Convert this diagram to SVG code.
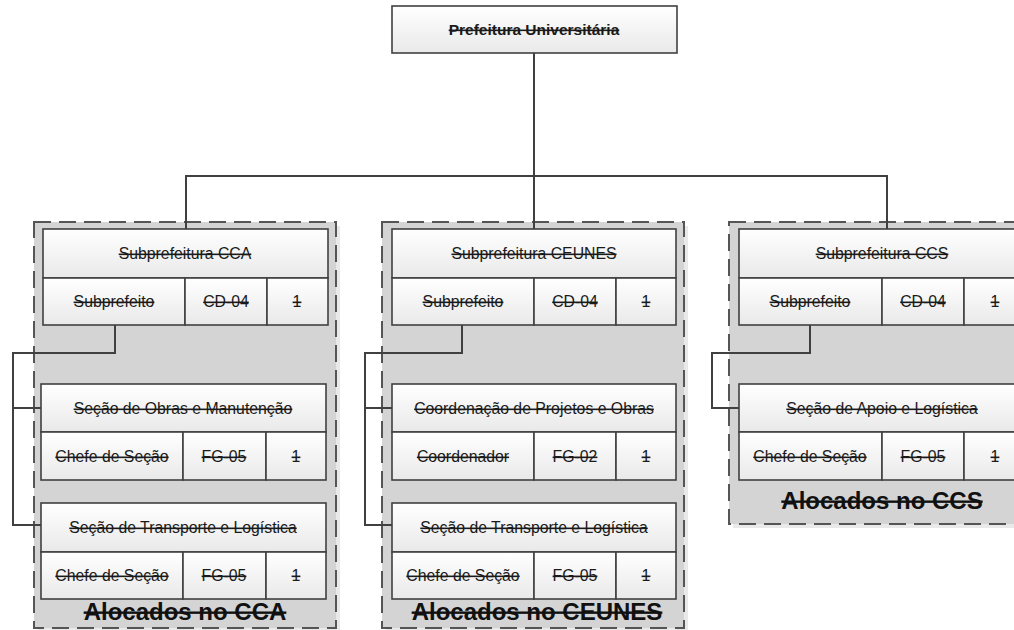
<svg xmlns="http://www.w3.org/2000/svg" width="1014" height="630" viewBox="0 0 1014 630">
<defs>
<linearGradient id="bg" x1="0" y1="0" x2="0" y2="1">
<stop offset="0" stop-color="#ffffff"/>
<stop offset="1" stop-color="#e9e9e9"/>
</linearGradient>
</defs>
<style>
.box{fill:url(#bg);stroke:#404040;stroke-width:1.6}
.cont{fill:#d4d4d4;stroke:#555555;stroke-width:2;stroke-dasharray:17 8}
.shadow{fill:#e9e9e9}
.t{font-family:"Liberation Sans",Arial,sans-serif;font-size:15.8px;fill:#1a1a1a;text-anchor:middle;text-decoration:line-through}
.tb{font-family:"Liberation Sans",Arial,sans-serif;font-size:15.5px;font-weight:bold;fill:#1a1a1a;text-anchor:middle;text-decoration:line-through}
.big{font-family:"Liberation Sans",Arial,sans-serif;font-size:24px;font-weight:bold;fill:#111;text-anchor:middle;text-decoration:line-through}
.ln{fill:none;stroke:#404040;stroke-width:2}
</style>
<rect width="1014" height="630" fill="#ffffff"/>

<g id="container-cca">
<rect class="shadow" x="38" y="226" width="302" height="410"/>
<rect class="cont" x="34" y="222" width="302" height="406"/>
<text class="big" x="185" y="620">Alocados no CCA</text>
</g>
<g id="container-ceunes">
<rect class="shadow" x="386" y="226" width="302" height="410"/>
<rect class="cont" x="382" y="222" width="302" height="406"/>
<text class="big" x="537" y="620">Alocados no CEUNES</text>
</g>
<g id="container-ccs">
<rect class="shadow" x="733" y="226" width="300" height="302"/>
<rect class="cont" x="729" y="222" width="300" height="302"/>
<text class="big" x="882" y="509">Alocados no CCS</text>
</g>

<g id="connectors">
<path class="ln" d="M534 53 V176 M186 229 V176 H887 V229 M534 176 V229"/>
<path class="ln" d="M115 325 V353 H13 V525 H41 M13 408 H41"/>
<path class="ln" d="M462 325 V353 H365 V525 H392 M365 408 H392"/>
<path class="ln" d="M810 325 V353 H712 V408 H739"/>
</g>

<g id="prefeitura">
<rect class="box" x="392" y="6" width="285" height="47"/>
<text class="tb" x="534" y="35">Prefeitura Universitária</text>
</g>

<g id="sub-cca">
<rect class="box" x="43" y="229" width="285" height="49"/>
<text class="t" x="185" y="259">Subprefeitura CCA</text>
<rect class="box" x="43" y="278" width="142" height="47"/>
<rect class="box" x="185" y="278" width="82" height="47"/>
<rect class="box" x="267" y="278" width="61" height="47"/>
<text class="t" x="114" y="307">Subprefeito</text>
<text class="t" x="226" y="307">CD-04</text>
<text class="t" x="297" y="307">1</text>
</g>
<g id="obras-cca">
<rect class="box" x="41" y="384" width="285" height="48"/>
<text class="t" x="183" y="414">Seção de Obras e Manutenção</text>
<rect class="box" x="41" y="432" width="142" height="48"/>
<rect class="box" x="183" y="432" width="83" height="48"/>
<rect class="box" x="266" y="432" width="60" height="48"/>
<text class="t" x="112" y="462">Chefe de Seção</text>
<text class="t" x="224" y="462">FG-05</text>
<text class="t" x="296" y="462">1</text>
</g>
<g id="transporte-cca">
<rect class="box" x="41" y="503" width="285" height="49"/>
<text class="t" x="183" y="533">Seção de Transporte e Logística</text>
<rect class="box" x="41" y="552" width="142" height="47"/>
<rect class="box" x="183" y="552" width="83" height="47"/>
<rect class="box" x="266" y="552" width="60" height="47"/>
<text class="t" x="112" y="581">Chefe de Seção</text>
<text class="t" x="224" y="581">FG-05</text>
<text class="t" x="296" y="581">1</text>
</g>

<g id="sub-ceunes">
<rect class="box" x="392" y="229" width="284" height="49"/>
<text class="t" x="534" y="259">Subprefeitura CEUNES</text>
<rect class="box" x="392" y="278" width="142" height="47"/>
<rect class="box" x="534" y="278" width="82" height="47"/>
<rect class="box" x="616" y="278" width="60" height="47"/>
<text class="t" x="463" y="307">Subprefeito</text>
<text class="t" x="575" y="307">CD-04</text>
<text class="t" x="646" y="307">1</text>
</g>
<g id="coord-ceunes">
<rect class="box" x="392" y="384" width="284" height="48"/>
<text class="t" x="534" y="414">Coordenação de Projetos e Obras</text>
<rect class="box" x="392" y="432" width="142" height="48"/>
<rect class="box" x="534" y="432" width="82" height="48"/>
<rect class="box" x="616" y="432" width="60" height="48"/>
<text class="t" x="463" y="462">Coordenador</text>
<text class="t" x="575" y="462">FG-02</text>
<text class="t" x="646" y="462">1</text>
</g>
<g id="transporte-ceunes">
<rect class="box" x="392" y="503" width="284" height="49"/>
<text class="t" x="534" y="533">Seção de Transporte e Logística</text>
<rect class="box" x="392" y="552" width="142" height="47"/>
<rect class="box" x="534" y="552" width="82" height="47"/>
<rect class="box" x="616" y="552" width="60" height="47"/>
<text class="t" x="463" y="581">Chefe de Seção</text>
<text class="t" x="575" y="581">FG-05</text>
<text class="t" x="646" y="581">1</text>
</g>

<g id="sub-ccs">
<rect class="box" x="739" y="229" width="290" height="49"/>
<text class="t" x="882" y="259">Subprefeitura CCS</text>
<rect class="box" x="739" y="278" width="143" height="47"/>
<rect class="box" x="882" y="278" width="82" height="47"/>
<rect class="box" x="964" y="278" width="65" height="47"/>
<text class="t" x="810" y="307">Subprefeito</text>
<text class="t" x="923" y="307">CD-04</text>
<text class="t" x="995" y="307">1</text>
</g>
<g id="apoio-ccs">
<rect class="box" x="739" y="384" width="290" height="48"/>
<text class="t" x="882" y="414">Seção de Apoio e Logística</text>
<rect class="box" x="739" y="432" width="143" height="48"/>
<rect class="box" x="882" y="432" width="82" height="48"/>
<rect class="box" x="964" y="432" width="65" height="48"/>
<text class="t" x="810" y="462">Chefe de Seção</text>
<text class="t" x="923" y="462">FG-05</text>
<text class="t" x="995" y="462">1</text>
</g>
</svg>
